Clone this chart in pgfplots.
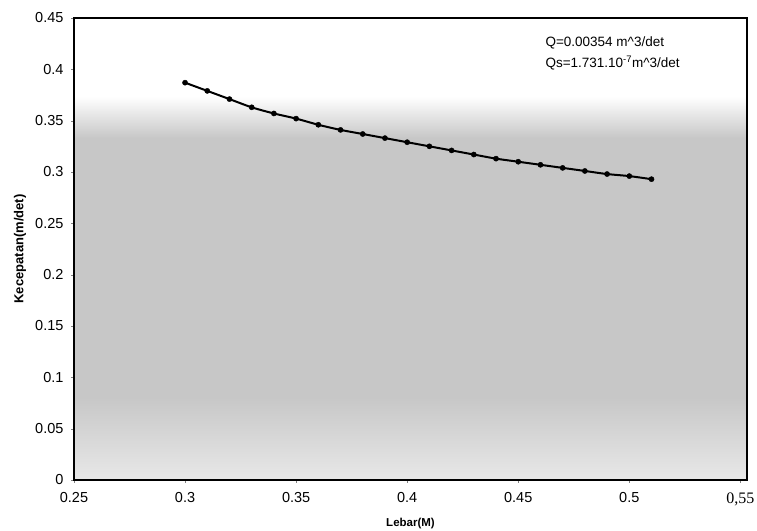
\documentclass[border=0pt]{standalone}
\usepackage{pgfplots}
\pgfplotsset{compat=1.18}
\usepackage{fontspec}
\setmainfont{Liberation Sans}
\newfontfamily\serif{Liberation Serif}

\begin{document}
\begin{tikzpicture}
\begin{axis}[
    name=ax,
    set layers,
    scale only axis,
    width=673pt, height=462pt,
    xmin=0.25, xmax=0.553,
    ymin=0, ymax=0.45,
    xtick={0.25,0.3,0.35,0.4,0.45,0.5,0.55},
    xticklabels={0.25,0.3,0.35,0.4,0.45,0.5,{\serif\fontsize{16}{18}\selectfont\raisebox{-3pt}{0,55}}},
    ytick={0,0.05,...,0.45},
    tick align=outside,
    xtick pos=bottom, ytick pos=left,
    major tick length=3pt,
    /pgf/number format/assume math mode=true,
    /pgf/number format/fixed,
    tick label style={font=\fontsize{14.5}{16}\selectfont},
    xticklabel style={yshift=-6pt},
    yticklabel style={xshift=-4pt},
    xlabel={\textbf{Lebar(M)}},
    ylabel={\textbf{Kecepatan(m/det)}},
    xlabel style={font=\fontsize{11.5}{13}\selectfont, at={(rel axis cs:0.5,0)}, anchor=center, yshift=-44pt},
    ylabel style={font=\fontsize{13}{15}\selectfont, at={(rel axis cs:0,0.5)}, anchor=center, yshift=54pt},
    axis line style={line width=1.5pt},
    clip=false,
]
% scanned grey background
\begin{pgfonlayer}{axis background}
\path[top color=black!22, bottom color=black!9] (rel axis cs:0,0) rectangle (rel axis cs:1,0.18);
\fill[black!22] (rel axis cs:0,0.18) rectangle (rel axis cs:1,0.74);
\path[top color=white, bottom color=black!22] (rel axis cs:0,0.83) rectangle (rel axis cs:1,0.74);
\end{pgfonlayer}

\addplot[black, line width=2pt, smooth, mark=*, mark size=2.6pt, mark options={line width=0.4pt}] coordinates {
(0.30,0.387) (0.31,0.379) (0.32,0.371) (0.33,0.363) (0.34,0.357)
(0.35,0.352) (0.36,0.346) (0.37,0.341) (0.38,0.337) (0.39,0.333)
(0.40,0.329) (0.41,0.325) (0.42,0.321) (0.43,0.317) (0.44,0.313)
(0.45,0.310) (0.46,0.307) (0.47,0.304) (0.48,0.301) (0.49,0.298)
(0.50,0.296) (0.51,0.293)
};

\node[anchor=west, font=\fontsize{13.5}{15}\selectfont] at (axis cs:0.4607,0.4256) {Q=0.00354 m\textasciicircum 3/det};
\node[anchor=west, font=\fontsize{13.5}{15}\selectfont] at (axis cs:0.4607,0.406) {Qs=1.731.10\textsuperscript{-7}m\textasciicircum 3/det};
\end{axis}
\pgfresetboundingbox
\path ([xshift=-74pt,yshift=-51pt]ax.south west) rectangle ([xshift=10pt,yshift=18pt]ax.north east);
\end{tikzpicture}
\end{document}
